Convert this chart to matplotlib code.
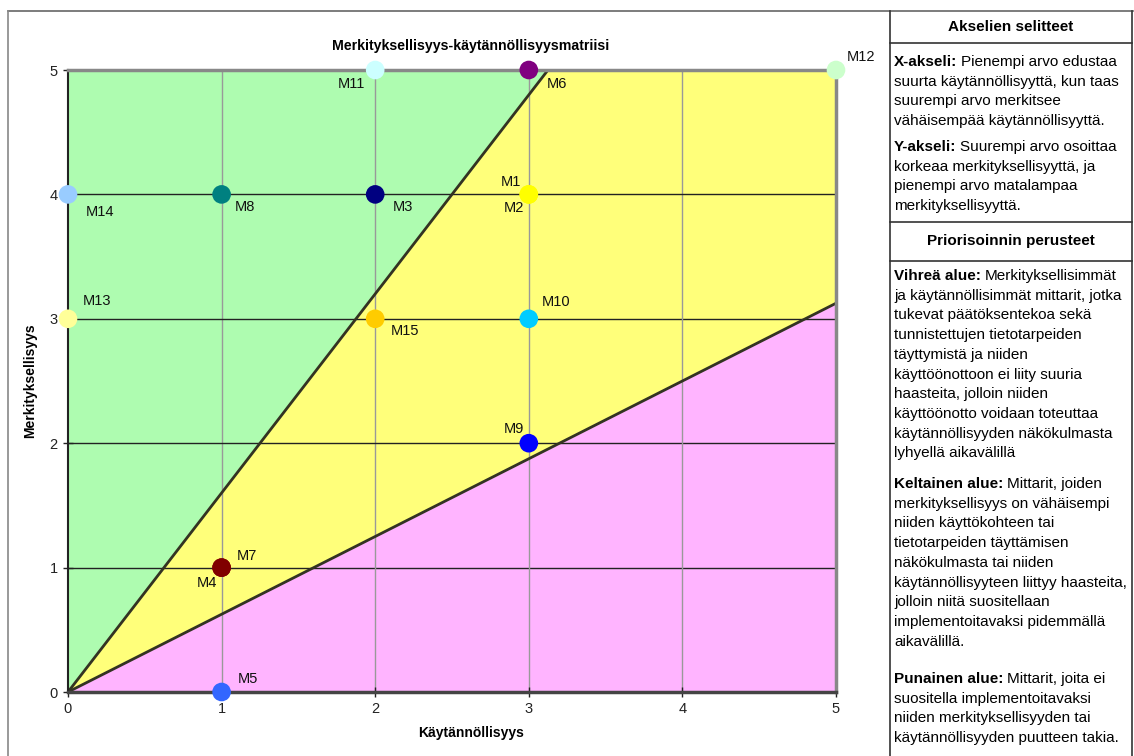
import matplotlib
matplotlib.use("Agg")
import matplotlib.pyplot as plt
from matplotlib.lines import Line2D

plt.rcParams['font.family'] = ['Liberation Sans', 'DejaVu Sans']

# data
names = ["M1", "M2", "M3", "M4", "M5", "M6", "M7", "M8", "M9", "M10",
         "M11", "M12", "M13", "M14", "M15"]
kaytannollisyys = [3, 3, 2, 1, 1, 3, 1, 1, 3, 3, 2, 5, 0, 0, 2]
merkityksellisyys = [4, 4, 4, 1, 0, 5, 1, 4, 2, 3, 5, 5, 3, 4, 3]
point_colors = ["#ffff00", "#ffff00", "#000080", "#800000", "#3366ff",
                "#800080", "#800000", "#008080", "#0000ff", "#00ccff",
                "#ccffff", "#ccffcc", "#ffff99", "#99ccff", "#ffcc00"]
# label offsets in pixels (dx, dy), y up
label_off = [(-18, 12), (-15, -14), (28, -13), (-15, -15), (26, 13),
             (28, -14), (25, 12), (23, -13), (-15, 14), (27, 17),
             (-24, -14), (25, 13), (29, 18), (32, -18), (30, -12)]

ratio = 1.6   # steep boundary y = 1.6x, flat boundary y = x/1.6
ticks = [0, 1, 2, 3, 4, 5]

W, H = 1134, 756
fig = plt.figure(figsize=(W / 100, H / 100), dpi=100)

def fx(x):
    return x / W

def fy(y):
    return 1 - y / H

# chart axes
ax = fig.add_axes([fx(68), fy(692), fx(836) - fx(68), fy(70) - fy(692)])
ax.set_xlim(0, 5)
ax.set_ylim(0, 5)

xm = 5 / ratio
ax.fill([0, 0, xm], [0, 5, 5], color="#aefcb0", lw=0, zorder=0)
ax.fill([0, xm, 5, 5], [0, 5, 5, 5 / ratio], color="#ffff7a", lw=0, zorder=0)
ax.fill([0, 5, 5], [0, 5 / ratio, 0], color="#ffb4ff", lw=0, zorder=0)

for t in ticks[1:-1]:
    ax.axvline(t, color="#999999", lw=1, zorder=1)
    ax.axhline(t, color="#222222", lw=1, zorder=1)

ax.plot([0, xm], [0, 5], color="#333322", lw=2, zorder=2)
ax.plot([0, 5], [0, 5 / ratio], color="#333322", lw=2, zorder=2)

ax.spines['top'].set_color("#888888")
ax.spines['top'].set_linewidth(2.5)
ax.spines['right'].set_color("#888888")
ax.spines['right'].set_linewidth(2.5)
ax.spines['left'].set_color("#222222")
ax.spines['left'].set_linewidth(1.5)
ax.spines['bottom'].set_color("#444444")
ax.spines['bottom'].set_linewidth(2.5)

ax.set_xticks(ticks)
ax.set_yticks(ticks)
ax.tick_params(direction='inout', length=7, width=1, labelsize=10.5,
               colors="#222222", pad=4)

ax.scatter(kaytannollisyys, merkityksellisyys, s=180, c=point_colors,
           edgecolors='none', zorder=5, clip_on=False)
for n, x, y, off in zip(names, kaytannollisyys, merkityksellisyys, label_off):
    ax.annotate(n, (x, y), xytext=off, textcoords='offset pixels',
                ha='center', va='center', fontsize=10.5, color="#111111",
                zorder=6, annotation_clip=False)

fig.text(fx(471), fy(46), "Merkityksellisyys-käytännöllisyysmatriisi",
         fontsize=10.2, fontweight='bold', ha='center', va='center')
ax.set_xlabel("Käytännöllisyys", fontsize=10, fontweight='bold')
ax.xaxis.set_label_coords((471 - 68) / 768, -0.055)
ax.set_ylabel("Merkityksellisyys", fontsize=10, fontweight='bold', labelpad=9)

# outer frame and table
def hline(y, x0, x1, c="#555555"):
    fig.add_artist(Line2D([fx(x0), fx(x1)], [fy(y), fy(y)], color=c, lw=1.2))

def vline(x, y0, y1, c="#555555"):
    fig.add_artist(Line2D([fx(x), fx(x)], [fy(y0), fy(y1)], color=c, lw=1.2))

hline(11, 8, 1133, "#666666")
vline(8, 11, 756, "#888888")
vline(890, 11, 756, "#333333")
vline(1132, 11, 756, "#333333")
for yy in [43, 222, 261]:
    hline(yy, 890, 1132, "#333333")

fs = 11
fig.text(fx(1011), fy(27), "Akselien selitteet", fontsize=fs,
         fontweight='bold', ha='center', va='center')
fig.text(fx(1011), fy(241), "Priorisoinnin perusteet", fontsize=fs,
         fontweight='bold', ha='center', va='center')

paragraphs = [
    (66, "X-akseli:", ["Pienempi arvo edustaa",
                       "suurta käytännöllisyyttä, kun taas",
                       "suurempi arvo merkitsee",
                       "vähäisempää käytännöllisyyttä."]),
    (151, "Y-akseli:", ["Suurempi arvo osoittaa",
                        "korkeaa merkityksellisyyttä, ja",
                        "pienempi arvo matalampaa",
                        "merkityksellisyyttä."]),
    (280, "Vihreä alue:", ["Merkityksellisimmät",
                           "ja käytännöllisimmät mittarit, jotka",
                           "tukevat päätöksentekoa sekä",
                           "tunnistettujen tietotarpeiden",
                           "täyttymistä ja niiden",
                           "käyttöönottoon ei liity suuria",
                           "haasteita, jolloin niiden",
                           "käyttöönotto voidaan toteuttaa",
                           "käytännöllisyyden näkökulmasta",
                           "lyhyellä aikavälillä"]),
    (488, "Keltainen alue:", ["Mittarit, joiden",
                              "merkityksellisyys on vähäisempi",
                              "niiden käyttökohteen tai",
                              "tietotarpeiden täyttämisen",
                              "näkökulmasta tai niiden",
                              "käytännöllisyyteen liittyy haasteita,",
                              "jolloin niitä suositellaan",
                              "implementoitavaksi pidemmällä",
                              "aikavälillä."]),
    (683, "Punainen alue:", ["Mittarit, joita ei",
                             "suositella implementoitavaksi",
                             "niiden merkityksellisyyden tai",
                             "käytännöllisyyden puutteen takia."]),
]
renderer = fig.canvas.get_renderer()
step = 19.7
for y0, head, lines in paragraphs:
    b = fig.text(fx(894), fy(y0), head, fontsize=fs, fontweight='bold',
                 va='baseline', ha='left')
    wpx = b.get_window_extent(renderer=renderer).width
    fig.text(fx(894 + wpx + 4), fy(y0), lines[0], fontsize=fs,
             va='baseline', ha='left')
    for i, line in enumerate(lines[1:], start=1):
        fig.text(fx(894), fy(y0 + i * step), line, fontsize=fs,
                 va='baseline', ha='left')

fig.savefig("out.png", dpi=100)
